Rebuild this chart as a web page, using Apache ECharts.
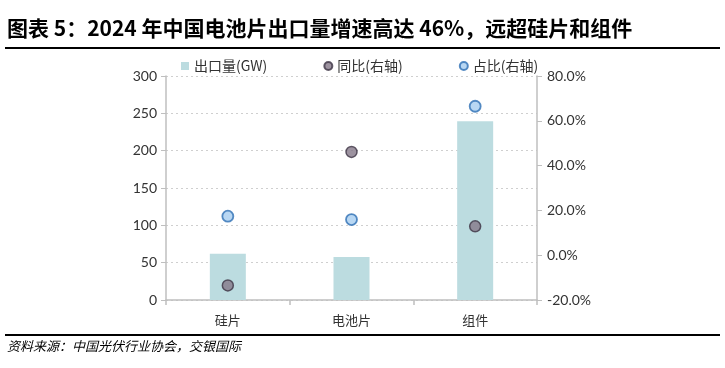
<!DOCTYPE html>
<html><head><meta charset="utf-8">
<script src="https://cdn.jsdelivr.net/npm/echarts@6/dist/echarts.min.js"></script>
<style>html,body{margin:0;padding:0;background:#fff}#c{width:725px;height:368px}</style>
</head><body><div id="c"></div>
<script>
const categories = ['硅片', '电池片', '组件'];
const exportVolume = [62, 57.5, 239.5];
const yoy = [-13.5, 46.1, 12.9];
const share = [17.4, 15.9, 66.5];
const leftTicks = [0, 50, 100, 150, 200, 250, 300];
const rightTicks = [-20, 0, 20, 40, 60, 80];
const titleText = '图表 5：2024 年中国电池片出口量增速高达 46%，远超硅片和组件';
const sourceText = '资料来源：中国光伏行业协会，交银国际';

const chart = echarts.init(document.getElementById('c'));
const cjk = '"Noto Sans CJK SC", sans-serif';
const num = 'Lato, "Open Sans", sans-serif';
chart.setOption({
  animation: false,
  backgroundColor: '#fff',
  graphic: [
    {type: 'text', left: 7, top: 18, style: {text: titleText, font: 'bold 21px ' + cjk, fill: '#000'}},
    {type: 'line', shape: {x1: 5, y1: 48, x2: 720, y2: 48}, style: {stroke: '#000', lineWidth: 2}},
    {type: 'line', shape: {x1: 5, y1: 335, x2: 720, y2: 335}, style: {stroke: '#000', lineWidth: 2}},
    {type: 'text', left: 7, top: 340, style: {text: sourceText, font: 'italic 13px ' + cjk, fill: '#000'}}
  ],
  legend: {
    left: 176, top: 54, itemWidth: 8, itemHeight: 8, itemGap: 56,
    textStyle: {fontFamily: cjk, fontSize: 14, color: '#333'},
    data: [
      {name: '出口量(GW)', icon: 'rect'},
      {name: '同比(右轴)', icon: 'circle'},
      {name: '占比(右轴)', icon: 'circle'}
    ]
  },
  grid: {left: 166, right: 188, top: 76, bottom: 68},
  xAxis: {
    type: 'category', data: categories,
    axisLine: {lineStyle: {color: '#bfbfbf', width: 1.5}},
    axisTick: {show: true, length: 5, lineStyle: {color: '#bfbfbf', width: 1.5}},
    axisLabel: {fontFamily: cjk, fontSize: 13, color: '#333', margin: 14}
  },
  yAxis: [
    {type: 'value', min: 0, max: 300, interval: 50,
     axisLine: {show: true, lineStyle: {color: '#bfbfbf', width: 1.5}},
     axisTick: {show: true, length: 5, lineStyle: {color: '#bfbfbf'}},
     axisLabel: {fontFamily: num, fontSize: 14, color: '#333', margin: 9},
     splitLine: {show: true, lineStyle: {color: '#cfcfcf', type: [2, 3]}}},
    {type: 'value', min: -20, max: 80, interval: 20, position: 'right',
     axisLine: {show: true, lineStyle: {color: '#bfbfbf', width: 1.5}},
     axisTick: {show: true, length: 5, lineStyle: {color: '#bfbfbf'}},
     axisLabel: {fontFamily: num, fontSize: 14, color: '#333', margin: 10, formatter: v => v.toFixed(1) + '%'},
     splitLine: {show: false}}
  ],
  series: [
    {name: '出口量(GW)', type: 'bar', data: exportVolume, barWidth: 36, itemStyle: {color: '#bcdce0'}},
    {name: '同比(右轴)', type: 'scatter', yAxisIndex: 1, data: yoy, symbolSize: 11,
     itemStyle: {color: '#857888', borderColor: '#3d3545', borderWidth: 1.5}},
    {name: '占比(右轴)', type: 'scatter', yAxisIndex: 1, data: share, symbolSize: 11,
     itemStyle: {color: '#a6cdf0', borderColor: '#2e6fb4', borderWidth: 1.8}}
  ]
});
</script></body></html>
